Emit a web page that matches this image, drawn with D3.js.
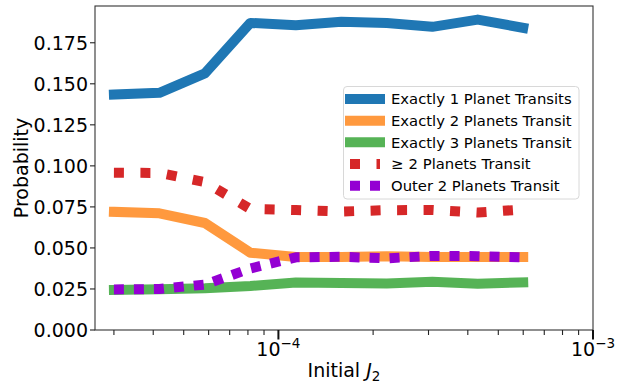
<!DOCTYPE html>
<html><head><meta charset="utf-8">
<script src="https://cdn.jsdelivr.net/npm/d3@7"></script>
<style>body{margin:0;background:#fff}svg{display:block;font-family:"DejaVu Sans",sans-serif}</style>
</head><body>
<svg id="c" width="625" height="385"></svg>
<script>
const j2Values = [3.0e-5, 4.185e-5, 5.838e-5, 8.144e-5, 1.136e-4, 1.585e-4, 2.211e-4, 3.084e-4, 4.302e-4, 6.0e-4];
const exactly1 = [0.1435, 0.1445, 0.1563, 0.1871, 0.1857, 0.1878, 0.1871, 0.1847, 0.1891, 0.1841];
const exactly2 = [0.0720, 0.0711, 0.0652, 0.0471, 0.0445, 0.0445, 0.0450, 0.0445, 0.0445, 0.0445];
const exactly3 = [0.0244, 0.0248, 0.0254, 0.0268, 0.0290, 0.0286, 0.0284, 0.0294, 0.0282, 0.0290];
const atLeast2 = [0.0958, 0.0957, 0.0901, 0.0737, 0.0731, 0.0722, 0.0730, 0.0731, 0.0716, 0.0734];
const outer2 = [0.0247, 0.0250, 0.0277, 0.0375, 0.0443, 0.0446, 0.0437, 0.0451, 0.0450, 0.0442];
const yTicks = [0, 0.025, 0.05, 0.075, 0.1, 0.125, 0.15, 0.175];
const xMajorTicks = [1e-4, 1e-3];
const xMajorExp = ["−4", "−3"];
const xMinorTicks = [3e-5,4e-5,5e-5,6e-5,7e-5,8e-5,9e-5,2e-4,3e-4,4e-4,5e-4,6e-4,7e-4,8e-4,9e-4];
const seriesNames = ["Exactly 1 Planet Transits","Exactly 2 Planets Transit","Exactly 3 Planets Transit","≥ 2 Planets Transit","Outer 2 Planets Transit"];

const L=95,R=593,T=6,B=330;
const svg=d3.select("#c");
const x=d3.scaleLog().domain([2.612e-5,1e-3]).range([L,R]);
const y=d3.scaleLinear().domain([0,0.1974]).range([B,T]);

const series=[
 {name:seriesNames[0],vals:exactly1,color:"#1f77b4",op:1,dash:null,cap:"square"},
 {name:seriesNames[1],vals:exactly2,color:"#ff7f0e",op:0.8,dash:null,cap:"square"},
 {name:seriesNames[2],vals:exactly3,color:"#2ca02c",op:0.8,dash:null,cap:"square"},
 {name:seriesNames[3],vals:atLeast2,color:"#d62728",op:1,dash:"10,16.5",cap:"butt"},
 {name:seriesNames[4],vals:outer2,color:"#9400d3",op:1,dash:"10,10",cap:"butt"}
];

svg.append("defs").append("clipPath").attr("id","clip").append("rect")
 .attr("x",L).attr("y",T).attr("width",R-L).attr("height",B-T);

const line=d3.line().x(d=>x(d[0])).y(d=>y(d[1]));
const g=svg.append("g").attr("clip-path","url(#clip)");
series.forEach(s=>{
 g.append("path").datum(j2Values.map((v,i)=>[v,s.vals[i]]))
  .attr("d",line).attr("fill","none").attr("stroke",s.color).attr("stroke-opacity",s.op)
  .attr("stroke-width",10).attr("stroke-linejoin","round").attr("stroke-linecap",s.cap)
  .attr("stroke-dasharray",s.dash);
});

// spines
svg.append("rect").attr("x",L).attr("y",T).attr("width",R-L).attr("height",B-T)
 .attr("fill","none").attr("stroke","#333").attr("stroke-width",1.1);

// y ticks
yTicks.forEach(t=>{
 svg.append("line").attr("x1",L-5).attr("x2",L).attr("y1",y(t)).attr("y2",y(t)).attr("stroke","#222").attr("stroke-width",1.1);
 svg.append("text").attr("x",L-7).attr("y",y(t)+6.8).attr("text-anchor","end").attr("font-size",19).attr("fill","#000").text(t.toFixed(3));
});
// x ticks
xMinorTicks.forEach(t=>{
 svg.append("line").attr("x1",x(t)).attr("x2",x(t)).attr("y1",B).attr("y2",B+5).attr("stroke","#222").attr("stroke-width",1.1);
});
xMajorTicks.forEach((t,i)=>{
 svg.append("line").attr("x1",x(t)).attr("x2",x(t)).attr("y1",B).attr("y2",B+9.5).attr("stroke","#111").attr("stroke-width",2);
 const tx=svg.append("text").attr("x",x(t)).attr("y",356).attr("text-anchor","middle").attr("font-size",19).attr("fill","#000");
 tx.append("tspan").text("10");
 tx.append("tspan").attr("font-size",13.5).attr("dy",-8).text(xMajorExp[i]);
});

// axis labels
const xl=svg.append("text").attr("x",(L+R)/2).attr("y",377).attr("text-anchor","middle").attr("font-size",19).attr("fill","#000");
xl.append("tspan").text("Initial ");
xl.append("tspan").attr("font-style","italic").text("J");
xl.append("tspan").attr("font-size",13.5).attr("dy",4).text("2");
svg.append("text").attr("transform",`translate(28,${(T+B)/2}) rotate(-90)`).attr("text-anchor","middle")
 .attr("font-size",19).attr("fill","#000").text("Probability");

// legend
const lg=svg.append("g");
lg.append("rect").attr("x",343.5).attr("y",86.5).attr("width",235.5).attr("height",112.5).attr("rx",3.5)
 .attr("fill","#fff").attr("fill-opacity",0.8).attr("stroke","#d8d8d8").attr("stroke-width",1);
const rowY=[99,120.7,142.3,164,185.7];
series.forEach((s,i)=>{
 lg.append("line").attr("x1",350).attr("x2",380).attr("y1",rowY[i]).attr("y2",rowY[i])
  .attr("stroke",s.color).attr("stroke-opacity",s.op).attr("stroke-width",10)
  .attr("stroke-linecap",s.cap).attr("stroke-dasharray",s.dash);
 const t=lg.append("text").attr("x",391).attr("y",rowY[i]+5.3).attr("font-size",14.8).attr("fill","#000");
 if(i===3){ t.append("tspan").text("≥"); t.append("tspan").attr("dx",0.5).text(" 2 Planets Transit"); }
 else t.text(s.name);
});
</script>
</body></html>
